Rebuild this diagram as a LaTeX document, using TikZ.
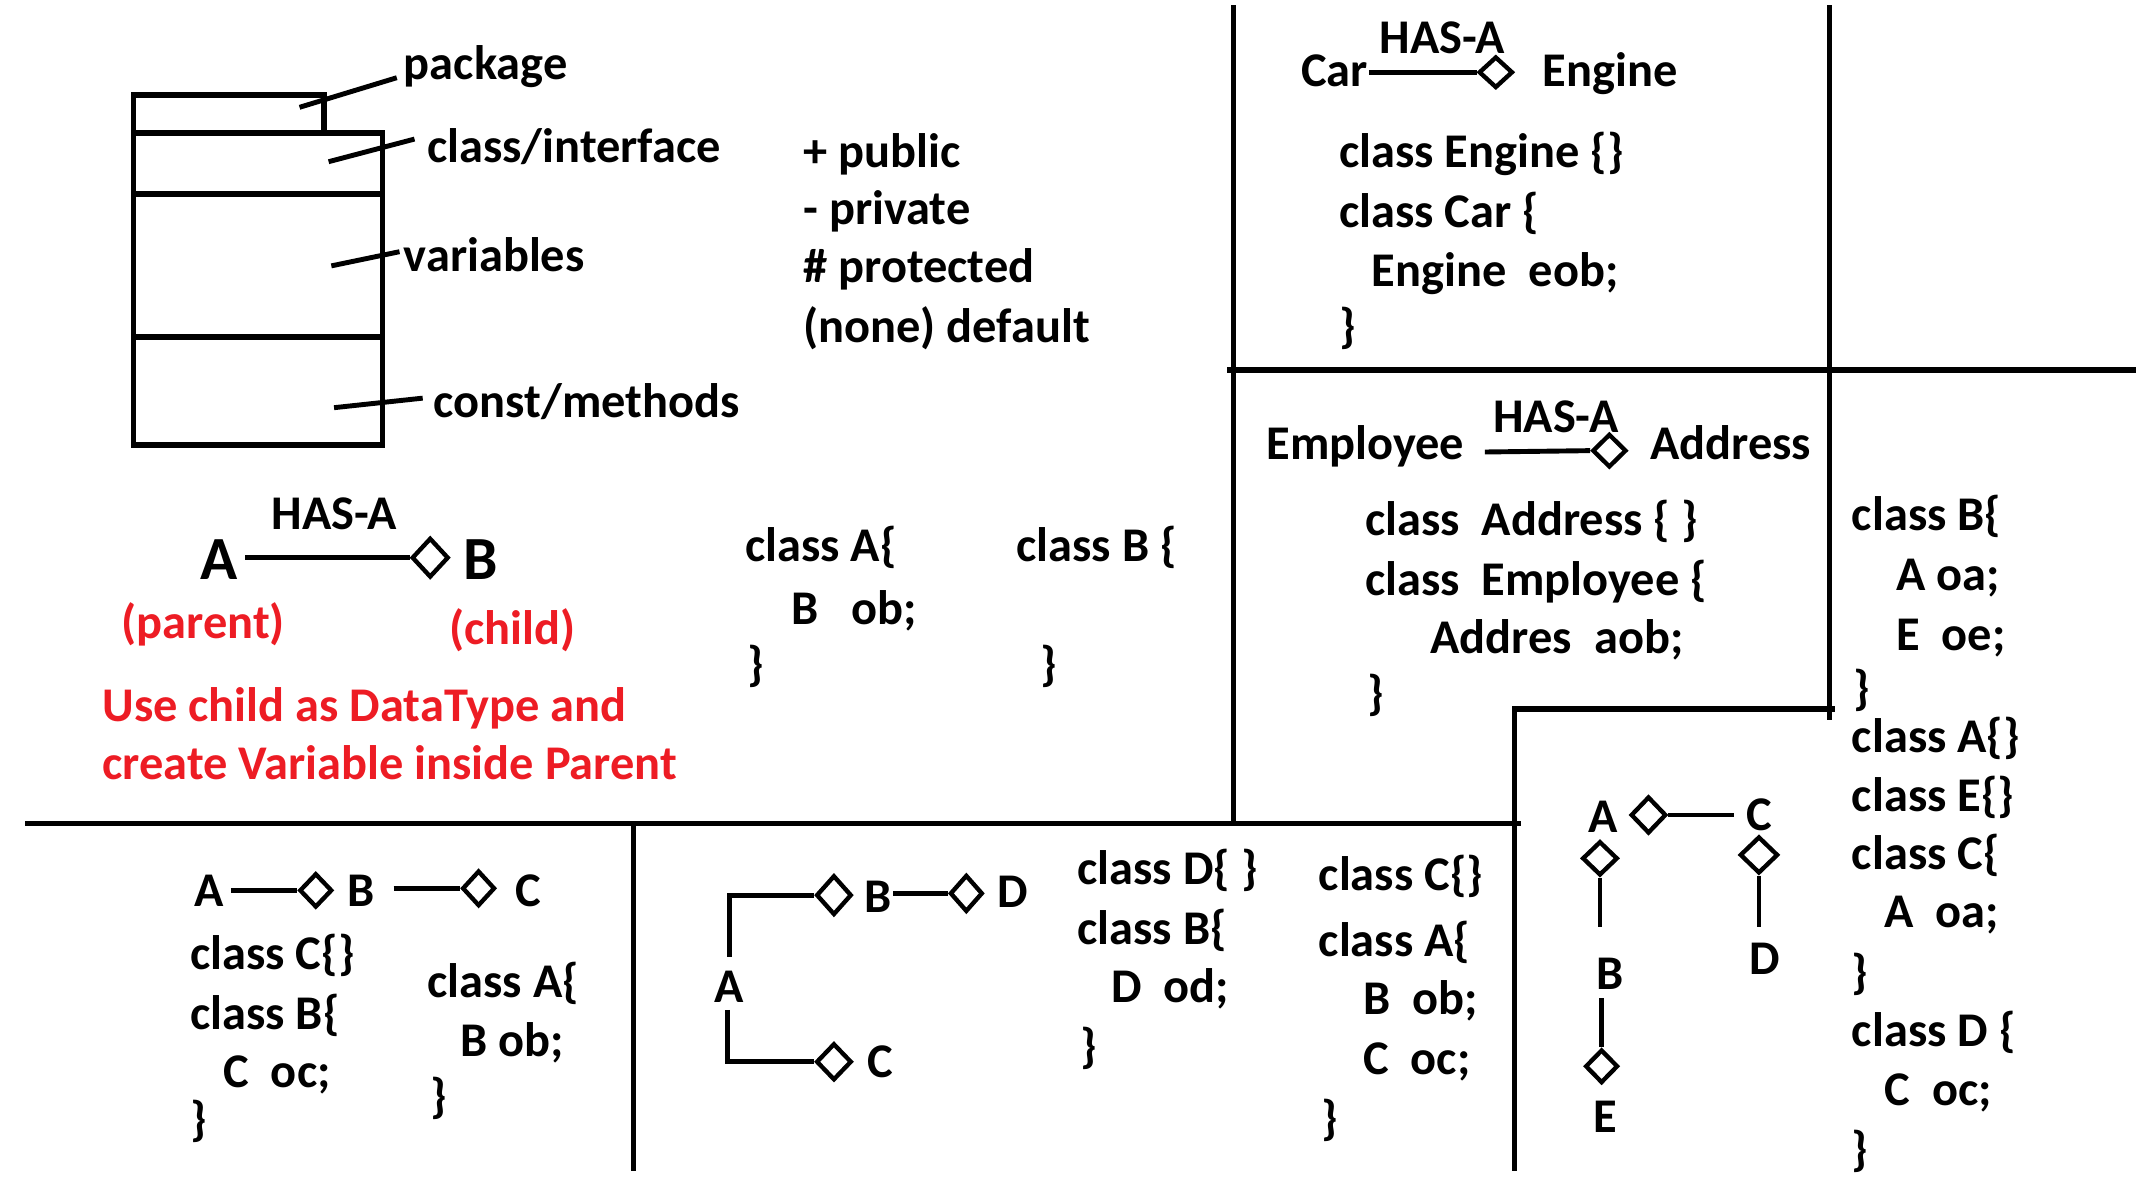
\documentclass[tikz,border=0pt]{standalone}
\usepackage{fontspec}
\setmainfont{Carlito}
\usetikzlibrary{shapes.geometric}
\definecolor{redtxt}{RGB}{237,28,36}
\tikzset{
  txt/.style={anchor=base west, inner sep=0pt, yshift=-2pt, font=\fontsize{35.5}{40}\selectfont\bfseries},
  bigtxt/.style={anchor=base west, inner sep=0pt, yshift=-1pt, font=\fontsize{45}{50}\selectfont\bfseries},
  redt/.style={txt, text=redtxt},
  dia/.style={shape=diamond, draw, line width=3.2pt, inner sep=0pt, minimum width=25pt, minimum height=27pt},
  frame/.style={line width=4pt},
  conn/.style={line width=3.6pt}
}
\begin{document}
\begin{tikzpicture}[x=1pt,y=-1pt]
\useasboundingbox (0,0) rectangle (1568,874);
% ---------- package box ----------
\draw[frame] (98,97.7) -- (98,69.7) -- (237.6,69.7) -- (237.6,97.7);
\draw[frame] (98,97.7) rectangle (280.5,326.4);
\draw[frame] (98,142.3) -- (280.5,142.3);
\draw[frame] (98,247) -- (280.5,247);
\node[txt] (tpkg) at (296,56) {package};
\node[txt] (tcls) at (313,117) {class/interface};
\node[txt] (tvar) at (296,197) {variables};
\node[txt] (tcon) at (318,304) {const/methods};
\coordinate (lp1) at (219.7,78.7); \coordinate (lp2) at (291,57);
\coordinate (lc1) at (241,118.6); \coordinate (lc2) at (304,102);
\coordinate (lv1) at (243,195);   \coordinate (lv2) at (293,184.6);
\coordinate (lm1) at (245,299);   \coordinate (lm2) at (310,292);
\draw[conn] (lp1) -- (lp2);
\draw[conn] (lc1) -- (lc2);
\draw[conn] (lv1) -- (lv2);
\draw[conn] (lm1) -- (lm2);
% ---------- access modifiers ----------
\node[txt] (mpub) at (589,121) {+ public};
\node[txt] (mpri) at (589,163) {- private};
\node[txt] (mpro) at (589,205) {\# protected};
\node[txt] (mnon) at (589,249) {(none) default};
% ---------- left HAS-A ----------
\node[txt] (hasa1) at (199,386) {HAS-A};
\node[bigtxt] (A1) at (147,424) {A};
\node[bigtxt] (B1) at (340,424) {B};
\node[dia, minimum width=27pt, minimum height=29pt] (d1) at (315.5,409) {};
\coordinate (s1) at (180,409);
\draw[conn] (s1) -- (d1.west);
\node[redt] (par) at (89,466) {(parent)};
\node[redt] (chi) at (329.5,471) {(child)};
\node[redt] (use1) at (75,527) {Use child as DataType and};
\node[redt] (use2) at (75,570) {create Variable inside Parent};
\node[txt] (ca1) at (546.4,410) {class A\{};
\node[txt] (ca2) at (580,456) {B\ \ \ ob;};
\node[txt] (ca3) at (548,497) {\}};
\node[txt] (cb1) at (745.3,410) {class B \{};
\node[txt] (cb2) at (762.7,497) {\}};
% ---------- frame lines ----------
\draw[frame] (18.7,603.9) -- (1115.5,603.9);
\draw[frame] (464.5,603.9) -- (464.5,858.6);
\draw[frame] (904.5,4) -- (904.5,603.9);
\draw[frame] (1341.6,4) -- (1341.6,528);
\draw[frame] (900,271.5) -- (1566.5,271.5);
\draw[frame] (1110.7,858.6) -- (1110.7,520) -- (1346,520);
% ---------- Car / Engine ----------
\node[txt] (car) at (954,61.3) {Car};
\node[txt] (hasa2) at (1011.6,37) {HAS-A};
\node[txt] (eng) at (1131.4,61.3) {Engine};
\node[dia, minimum width=25pt, minimum height=23pt] (d2) at (1097,53) {};
\coordinate (s2) at (1004,53);
\draw[conn] (s2) -- (d2.west);
\node[txt] (ce1) at (982,121) {class Engine \{\}};
\node[txt] (ce2) at (982,165) {class Car \{};
\node[txt] (ce3) at (1006,208) {Engine\ \ eob;};
\node[txt] (ce4) at (982,249) {\}};
% ---------- Employee / Address ----------
\node[txt] (emp) at (928.6,335) {Employee};
\node[txt] (hasa3) at (1095,315) {HAS-A};
\node[txt] (adr) at (1210,335) {Address};
\node[dia, minimum width=25pt, minimum height=24.5pt] (d3) at (1180.3,330.5) {};
\coordinate (s3) at (1089,331.5);
\draw[conn] (s3) -- (d3.west);
\node[txt] (cd1) at (1001,391) {class\ \ Address \{ \}};
\node[txt] (cd2) at (1001,434.5) {class\ \ Employee \{};
\node[txt] (cd3) at (1049,477.5) {Addres\ \ aob;};
\node[txt] (cd4) at (1003,518.6) {\}};
% ---------- right column ----------
\node[txt] (r1) at (1358,387.3) {class B\{};
\node[txt] (r2) at (1390.5,431) {A oa;};
\node[txt] (r3) at (1390.5,474.8) {E\ \ oe;};
\node[txt] (r4) at (1359,515) {\}};
\node[txt] (r5) at (1358,550) {class A\{\}};
\node[txt] (r6) at (1358,592.8) {class E\{\}};
\node[txt] (r7) at (1358,635.6) {class C\{};
\node[txt] (r8) at (1382,678.4) {A\ \ oa;};
\node[txt] (r9) at (1358,723) {\}};
\node[txt] (r10) at (1358,765.2) {class D \{};
\node[txt] (r11) at (1382,809) {C\ \ oc;};
\node[txt] (r12) at (1358,853) {\}};
% ---------- tree (right bottom) ----------
\node[txt] (tA) at (1165,608.7) {A};
\node[txt] (tC) at (1280.5,607) {C};
\node[txt] (tB) at (1171,723.6) {B};
\node[txt] (tE) at (1168.7,828.7) {E};
\node[txt] (tD) at (1283,712.6) {D};
\node[dia, minimum width=26pt, minimum height=27pt] (dAC) at (1209,597.7) {};
\node[dia, minimum width=26pt, minimum height=25pt] (dAB) at (1173.4,629.5) {};
\node[dia, minimum width=24pt, minimum height=24.5pt] (dBE) at (1174.6,782) {};
\node[dia, minimum width=28pt, minimum height=27pt] (dCD) at (1290,627) {};
\coordinate (eAC) at (1271.8,597.7);
\coordinate (eAB) at (1173.4,679.6);
\coordinate (eBE) at (1174.6,732);
\coordinate (eCD) at (1290,679.6);
\draw[conn] (dAC.east) -- (eAC);
\draw[conn] (dAB.south) -- (eAB);
\draw[conn] (eBE) -- (dBE.north);
\draw[conn] (dCD.south) -- (eCD);
% ---------- bottom left ----------
\node[txt] (bA) at (142.7,662.5) {A};
\node[txt] (bB) at (255,662.5) {B};
\node[txt] (bC) at (378,662.5) {C};
\node[dia, minimum width=24pt, minimum height=25pt] (dbAB) at (231.6,653) {};
\node[dia, minimum width=24pt, minimum height=26pt] (dbBC) at (351,651.5) {};
\coordinate (sbA) at (169.3,653);
\coordinate (sbB) at (288.6,651.5);
\draw[conn] (sbA) -- (dbAB.west);
\draw[conn] (sbB) -- (dbBC.west);
\node[txt] (bl1) at (139.4,709) {class C\{\}};
\node[txt] (bl2) at (139.4,753) {class B\{};
\node[txt] (bl3) at (163.7,795.8) {C\ \ oc;};
\node[txt] (bl4) at (139.5,831) {\}};
\node[txt] (bl5) at (313.4,729.8) {class A\{};
\node[txt] (bl6) at (337.7,772.5) {B ob;};
\node[txt] (bl7) at (315.8,814) {\}};
% ---------- middle bottom tree ----------
\node[txt] (mA) at (524,733.4) {A};
\node[txt] (mB) at (633.8,667.4) {B};
\node[txt] (mD) at (731,663.7) {D};
\node[txt] (mC) at (636,788.4) {C};
\node[dia, minimum width=26pt, minimum height=29pt] (dmAB) at (611.6,656.5) {};
\node[dia, minimum width=24pt, minimum height=27pt] (dmBD) at (708.7,655.2) {};
\node[dia, minimum width=26pt, minimum height=27pt] (dmAC) at (611.6,778.7) {};
\coordinate (smA1) at (534.7,701.6);
\coordinate (smA2) at (533.3,740.7);
\coordinate (smB) at (655,655.2);
\draw[conn] (smA1) |- (dmAB.west);
\draw[conn] (smA2) |- (dmAC.west);
\draw[conn] (smB) -- (dmBD.west);
\node[txt] (m1) at (790,646.6) {class D\{ \}};
\node[txt] (m2) at (790,690.6) {class B\{};
\node[txt] (m3) at (815,733.4) {D\ \ od;};
\node[txt] (m4) at (792,777.4) {\}};
\node[txt] (m5) at (967,650.8) {class C\{\}};
\node[txt] (m6) at (967,699.7) {class A\{};
\node[txt] (m7) at (999.7,742) {B\ \ ob;};
\node[txt] (m8) at (999.7,786) {C\ \ oc;};
\node[txt] (m9) at (969,830) {\}};
\end{tikzpicture}
\end{document}
